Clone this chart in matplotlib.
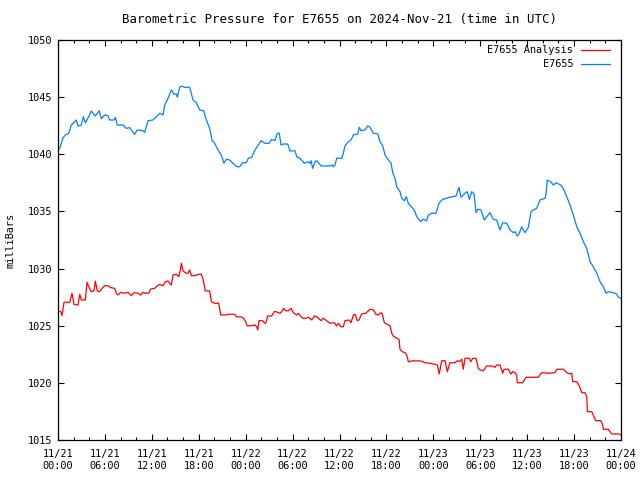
import numpy as np
import matplotlib
matplotlib.use('Agg')
import matplotlib.pyplot as plt
from matplotlib.ticker import MultipleLocator

# hours since 2024-11-21 00:00 UTC, pressure in mbar
blue_hours = [0.00, 0.22, 0.64, 0.93, 1.37, 1.70, 2.14, 2.34, 2.56, 2.98, 3.24, 3.49, 3.93, 4.26,
              4.77, 5.28, 5.54, 5.97, 6.39, 6.61, 7.16, 7.33, 7.58, 8.31, 8.73, 9.17, 9.46, 9.81,
              10.14, 10.87, 11.09, 11.51, 12.15, 12.57, 13.01, 13.43, 13.65, 14.07, 14.49, 14.84,
              15.13, 15.26, 15.56, 15.86, 16.20, 16.84, 17.27, 17.69, 18.12, 18.63, 18.97, 19.40,
              19.69, 20.04, 20.46, 20.88, 21.23, 21.52, 21.96, 22.38, 22.89, 23.24, 23.57, 24.08,
              24.34, 24.77, 25.19, 25.62, 25.96, 26.47, 26.98, 27.33, 27.75, 28.05, 28.30, 28.52,
              28.81, 29.38, 29.67, 30.31, 30.53, 30.95, 31.50, 31.94, 32.23, 32.36, 32.57, 32.87,
              33.09, 33.64, 34.79, 35.08, 35.21, 35.43, 35.64, 36.28, 36.49, 36.70, 37.13, 37.47,
              37.77, 38.33, 38.53, 38.75, 39.26, 39.61, 39.90, 40.33, 40.89, 41.18, 41.53, 41.82,
              42.24, 42.59, 42.81, 43.10, 43.32, 43.74, 43.96, 44.29, 44.55, 44.80, 45.24, 45.57,
              45.87, 46.08, 46.39, 46.64, 47.15, 47.36, 47.79, 48.34, 48.76, 49.20, 49.71, 50.13,
              50.90, 51.28, 51.54, 52.05, 52.34, 52.60, 52.91, 53.20, 53.46, 53.68, 54.10, 54.52,
              54.83, 55.25, 55.67, 56.11, 56.53, 56.87, 57.39, 57.81, 58.23, 58.45, 58.74, 59.00,
              59.30, 59.72, 60.15, 60.49, 60.79, 61.22, 61.64, 62.28, 62.41, 62.58, 63.01, 63.34,
              63.69, 64.29, 64.62, 65.06, 65.48, 65.90, 66.34, 66.76, 67.19, 67.62, 68.04, 68.46,
              68.90, 69.32, 69.74, 70.08, 70.38, 71.02, 71.45, 71.66, 72.00]
blue_mbar = [1040.38, 1040.52, 1041.43, 1041.69, 1041.84, 1042.56, 1042.85, 1043.00, 1042.48, 1042.56,
             1043.29, 1042.76, 1043.29, 1043.79, 1043.35, 1043.81, 1043.11, 1043.44, 1043.38, 1043.00,
             1043.00, 1043.24, 1042.56, 1042.56, 1042.27, 1042.33, 1042.04, 1041.75, 1042.13, 1042.06,
             1041.92, 1042.94, 1043.00, 1043.29, 1043.59, 1043.44, 1044.31, 1044.90, 1045.63, 1045.25,
             1045.28, 1044.99, 1045.86, 1045.98, 1045.86, 1045.86, 1044.75, 1044.51, 1043.88, 1043.81,
             1043.00, 1042.27, 1041.25, 1040.96, 1040.38, 1039.94, 1039.21, 1039.56, 1039.50, 1039.21,
             1038.91, 1038.91, 1039.26, 1039.26, 1039.65, 1039.74, 1040.38, 1040.81, 1041.19, 1040.96,
             1040.96, 1041.31, 1041.19, 1041.84, 1041.84, 1040.81, 1040.90, 1040.90, 1040.29, 1040.31,
             1039.79, 1039.65, 1039.21, 1039.35, 1039.21, 1039.44, 1038.77, 1039.35, 1039.44, 1038.98,
             1038.98, 1039.06, 1038.91, 1039.06, 1039.65, 1039.65, 1040.09, 1040.73, 1041.10, 1041.25,
             1041.69, 1041.78, 1042.36, 1042.06, 1042.13, 1042.48, 1042.36, 1041.84, 1041.78, 1041.10,
             1040.73, 1039.94, 1039.50, 1039.21, 1038.39, 1037.90, 1037.16, 1036.73, 1036.15, 1035.94,
             1036.29, 1035.71, 1035.36, 1035.13, 1034.54, 1034.36, 1034.10, 1034.31, 1034.19, 1034.69,
             1034.84, 1034.84, 1035.76, 1036.06, 1036.15, 1036.24, 1036.35, 1037.11, 1036.24, 1036.59,
             1036.73, 1036.06, 1036.73, 1036.53, 1034.89, 1035.19, 1035.13, 1034.25, 1034.54, 1034.89,
             1034.31, 1034.25, 1033.38, 1034.01, 1033.96, 1033.38, 1033.14, 1033.23, 1032.85, 1033.09,
             1033.66, 1033.14, 1033.61, 1034.98, 1035.13, 1035.27, 1036.00, 1036.15, 1036.53, 1037.75,
             1037.60, 1037.31, 1037.51, 1037.31, 1037.02, 1036.29, 1035.56, 1034.69, 1033.66, 1033.09,
             1032.35, 1031.77, 1030.60, 1030.16, 1029.59, 1028.85, 1028.41, 1027.84, 1027.98, 1027.89,
             1027.78, 1027.49, 1027.40]

red_hours = [0.00, 0.35, 0.51, 0.77, 1.50, 1.79, 2.05, 2.56, 2.78, 2.98, 3.49, 3.71, 3.93, 4.26,
             4.60, 4.77, 5.03, 5.33, 5.63, 5.97, 6.39, 6.74, 7.25, 7.46, 7.67, 8.02, 8.53, 8.95,
             9.37, 9.72, 10.23, 10.58, 10.87, 11.16, 11.60, 11.86, 12.37, 12.70, 13.01, 13.43,
             13.72, 14.07, 14.29, 14.49, 14.71, 15.13, 15.44, 15.64, 15.77, 15.99, 16.41, 16.63,
             16.84, 17.05, 17.56, 17.90, 18.33, 18.54, 18.84, 19.40, 19.61, 20.04, 20.55, 20.81,
             21.52, 21.74, 22.60, 22.80, 23.44, 23.75, 24.00, 24.21, 24.68, 25.19, 25.41, 25.54,
             25.71, 26.13, 26.38, 26.56, 26.82, 27.33, 27.66, 27.88, 28.17, 28.39, 28.61, 28.86,
             29.12, 29.45, 29.80, 30.09, 30.53, 30.73, 31.08, 31.37, 31.72, 32.01, 32.45, 32.78,
             33.09, 33.64, 33.93, 34.36, 34.79, 35.34, 35.64, 35.85, 36.19, 36.49, 36.70, 37.22,
             37.47, 37.77, 37.98, 38.28, 38.49, 38.84, 39.35, 39.90, 40.33, 40.63, 40.96, 41.31,
             41.48, 41.73, 42.04, 42.46, 42.68, 42.88, 43.32, 43.61, 43.74, 44.03, 44.38, 44.60,
             44.80, 45.44, 45.75, 46.08, 46.51, 46.94, 47.58, 48.21, 48.51, 48.76, 49.07, 49.49,
             49.79, 50.13, 50.77, 51.07, 51.32, 51.63, 51.83, 52.05, 52.60, 52.78, 53.04, 53.46,
             53.75, 53.97, 54.39, 54.83, 55.46, 55.89, 56.11, 56.53, 56.87, 57.04, 57.59, 57.90,
             58.15, 58.45, 58.66, 58.74, 59.43, 59.85, 61.42, 61.86, 62.83, 63.56, 63.78, 64.62,
             65.06, 65.48, 65.70, 65.83, 66.34, 66.67, 66.98, 67.40, 67.62, 67.70, 68.26, 68.55,
             68.77, 69.41, 69.66, 69.74, 70.38, 70.69, 70.80, 71.79, 72.00]
red_mbar = [1026.29, 1026.23, 1025.88, 1027.05, 1027.05, 1027.84, 1026.87, 1026.81, 1027.75, 1027.25,
            1027.25, 1028.80, 1028.41, 1027.98, 1028.04, 1028.91, 1028.04, 1027.98, 1028.27, 1028.50,
            1028.50, 1028.33, 1028.27, 1027.84, 1027.69, 1027.92, 1027.84, 1027.92, 1027.63, 1027.89,
            1027.84, 1027.69, 1027.92, 1027.84, 1027.84, 1028.21, 1028.27, 1028.50, 1028.62, 1028.50,
            1028.85, 1028.91, 1028.71, 1028.56, 1029.44, 1029.50, 1029.29, 1029.88, 1030.46, 1029.79,
            1029.59, 1029.59, 1029.88, 1029.38, 1029.38, 1029.50, 1029.50, 1029.09, 1028.04, 1028.04,
            1027.10, 1026.96, 1026.96, 1025.94, 1025.94, 1026.00, 1026.00, 1025.79, 1025.76, 1025.65,
            1025.35, 1024.98, 1025.00, 1025.06, 1024.91, 1024.63, 1025.44, 1025.44, 1025.26, 1025.21,
            1025.85, 1025.85, 1026.23, 1026.23, 1026.14, 1026.09, 1026.23, 1026.52, 1026.31, 1026.31,
            1026.52, 1026.14, 1025.94, 1026.09, 1025.79, 1025.65, 1025.65, 1025.74, 1025.50, 1025.85,
            1025.79, 1025.44, 1025.65, 1025.44, 1025.21, 1025.26, 1024.98, 1025.21, 1024.91, 1024.91,
            1025.44, 1025.50, 1025.26, 1025.94, 1026.00, 1025.44, 1025.50, 1026.03, 1026.09, 1026.44,
            1026.38, 1026.03, 1025.94, 1026.14, 1026.03, 1025.26, 1025.15, 1024.98, 1024.34, 1024.10,
            1023.90, 1023.81, 1022.94, 1022.73, 1022.64, 1022.44, 1021.85, 1021.94, 1021.91, 1021.94,
            1021.89, 1021.76, 1021.71, 1021.62, 1021.56, 1020.78, 1021.94, 1021.94, 1020.98, 1021.76,
            1021.76, 1021.94, 1021.85, 1022.06, 1021.19, 1022.15, 1022.15, 1021.85, 1022.15, 1022.15,
            1021.27, 1021.13, 1021.06, 1021.48, 1021.48, 1021.36, 1021.56, 1021.56, 1020.84, 1021.19,
            1021.19, 1020.78, 1020.98, 1020.89, 1020.69, 1020.01, 1020.01, 1020.49, 1020.49, 1020.89,
            1020.84, 1020.89, 1021.19, 1021.19, 1020.89, 1020.78, 1020.84, 1020.10, 1020.10, 1019.73,
            1019.14, 1019.14, 1018.79, 1017.48, 1017.48, 1017.04, 1016.69, 1016.69, 1016.31, 1015.94,
            1015.94, 1015.64, 1015.53, 1015.53, 1015.44]

tick_hours = list(range(0, 73, 6))
tick_labels = ['11/21\n00:00', '11/21\n06:00', '11/21\n12:00', '11/21\n18:00',
               '11/22\n00:00', '11/22\n06:00', '11/22\n12:00', '11/22\n18:00',
               '11/23\n00:00', '11/23\n06:00', '11/23\n12:00', '11/23\n18:00',
               '11/24\n00:00']

plt.rcParams['font.family'] = ['DejaVu Sans Mono']
plt.rcParams['font.size'] = 7.4

fig = plt.figure(figsize=(6.4, 4.8), dpi=100)
ax = fig.add_axes([58/640, 40/480, 563/640, 400/480])

ax.plot(red_hours, red_mbar, color='#ff0000', lw=0.9, label='E7655 Analysis')
ax.plot(blue_hours, blue_mbar, color='#0080ff', lw=0.9, label='E7655')

ax.set_xlim(0, 72)
ax.set_ylim(1015, 1050)
ax.set_xticks(tick_hours)
ax.set_xticklabels(tick_labels, linespacing=1.3)
ax.xaxis.set_minor_locator(MultipleLocator(2))
ax.yaxis.set_major_locator(MultipleLocator(5))
ax.tick_params(which='both', direction='in', top=True, right=True, width=0.8, color='black')
ax.tick_params(which='major', length=4.5)
ax.tick_params(axis='x', which='major', pad=6.5)
ax.tick_params(axis='y', which='major', pad=4)
ax.tick_params(which='minor', length=2.2)
for s in ax.spines.values():
    s.set_linewidth(0.9)

ax.set_ylabel('milliBars', labelpad=9)
ax.set_title('Barometric Pressure for E7655 on 2024-Nov-21 (time in UTC)', pad=12)

leg = ax.legend(loc='upper right', bbox_to_anchor=(0.99, 1.0), frameon=False,
                markerfirst=False, handlelength=2.8, handletextpad=0.8,
                borderaxespad=0.0, borderpad=0.5, labelspacing=0.4)
for t in leg.get_texts():
    t.set_ha('right')

fig.savefig('out.png', dpi=100)
